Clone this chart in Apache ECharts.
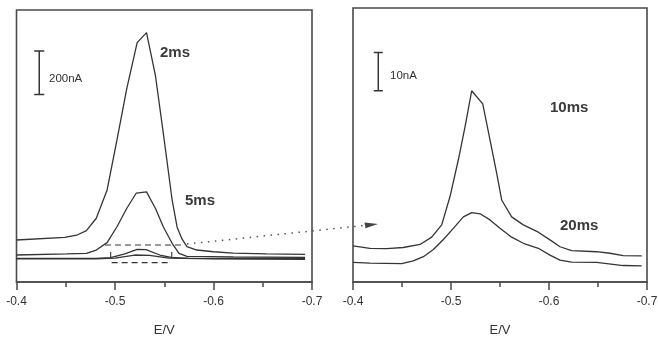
<!DOCTYPE html>
<html><head><meta charset="utf-8">
<script src="https://cdn.jsdelivr.net/npm/echarts@6.0.0/dist/echarts.min.js"></script>
<style>html,body{margin:0;padding:0;background:#fff}#c{width:658px;height:343px}</style>
</head><body><div id="c"></div>
<script>
// ---- data (E in V, current in nA) ----
const xTickLabels = ['-0.4', '-0.5', '-0.6', '-0.7'];
// left panel (200 nA scale)
const E_2ms = [-0.400,-0.449,-0.461,-0.471,-0.481,-0.492,-0.502,-0.512,-0.5225,-0.532,-0.541,-0.549,-0.558,-0.563,-0.568,-0.573,-0.583,-0.600,-0.620,-0.654,-0.693];
const I_2ms = [193,205,215,236,293,423,653,890,1100,1146,950,685,377,253,198,163,147,139,133,129,127];
const E_5ms = [-0.400,-0.451,-0.471,-0.481,-0.492,-0.502,-0.512,-0.5215,-0.532,-0.541,-0.549,-0.558,-0.565,-0.573,-0.620,-0.693];
const I_5ms = [124,129,132,147,181,254,339,408,414,339,254,178,132,118,115,113];
// 10 ms and 20 ms traces as they appear on the 200 nA scale
const E_10ms_small = [-0.400,-0.480,-0.4955,-0.510,-0.5225,-0.5315,-0.5455,-0.557,-0.575,-0.693];
const I_10ms_small = [109,109,112,129,150,149,124,113,109,107];
const E_20ms_small = [-0.400,-0.480,-0.500,-0.520,-0.535,-0.555,-0.600,-0.693];
const I_20ms_small = [106,106,110,124,122,110,106,104];
// right panel (10 nA scale)
const E_10ms = [-0.400,-0.4173,-0.4344,-0.4513,-0.4684,-0.4803,-0.4905,-0.499,-0.5075,-0.5143,-0.5211,-0.5324,-0.5398,-0.5466,-0.5517,-0.5619,-0.5738,-0.5891,-0.601,-0.6112,-0.6231,-0.6486,-0.6622,-0.6758,-0.6946];
const I_10ms = [9.4,8.8,8.7,9.0,9.8,11.7,14.9,22.3,31.9,40.5,49.9,46.5,37.1,28.4,21.4,17.0,14.9,13.0,11.0,9.2,8.2,7.9,7.5,6.9,6.8];
const E_20ms = [-0.400,-0.4173,-0.4497,-0.4615,-0.4718,-0.482,-0.4922,-0.5024,-0.5126,-0.5211,-0.5296,-0.5398,-0.55,-0.5619,-0.5738,-0.5891,-0.601,-0.6112,-0.6231,-0.6486,-0.6758,-0.6946];
const I_20ms = [5.1,4.9,4.8,5.5,6.6,8.5,11.1,14.0,17.0,18.1,17.8,16.2,14.0,11.7,10.1,8.8,7.0,5.7,5.2,5.1,4.3,4.2];
const seriesLabels = ['2ms', '5ms', '10ms', '20ms'];
const scaleLabels = ['200nA', '10nA'];
const scaleSizes = [200, 10];

const zip = (a, b) => a.map((v, i) => [v, b[i]]);
const INK = '#353535';
const FRAME = '#4a4a4a';
const FONT = 'Liberation Sans, Arial, sans-serif';

function lineSeries(gi, data, extra) {
  return Object.assign({
    type: 'line', xAxisIndex: gi, yAxisIndex: gi, data: data,
    symbol: 'none', showSymbol: false, silent: true, animation: false,
    lineStyle: { color: INK, width: 1.3 }
  }, extra || {});
}
function scaleBar(gi, x, y0, size, hw) {
  return lineSeries(gi, [[x - hw, y0], [x + hw, y0], [x, y0], [x, y0 + size], [x - hw, y0 + size], [x + hw, y0 + size]],
    { lineStyle: { color: INK, width: 1.5 } });
}
function xAxisFor(gi) {
  return {
    gridIndex: gi, type: 'value', min: -0.7, max: -0.4, interval: 0.1, inverse: true,
    name: 'E/V', nameLocation: 'middle', nameGap: 42,
    nameTextStyle: { fontSize: 13, color: '#333', fontFamily: FONT },
    axisLine: { show: true, lineStyle: { color: FRAME, width: 1.6 } },
    axisTick: { show: true, length: 8, lineStyle: { color: FRAME, width: 1.5 } },
    minorTick: { show: true, splitNumber: 2, length: 5, lineStyle: { color: FRAME, width: 1.5 } },
    splitLine: { show: false },
    axisLabel: { margin: 14, fontSize: 12, color: '#333', fontFamily: FONT,
      formatter: v => xTickLabels[Math.round((-0.4 - v) / 0.1)] }
  };
}

const chart = echarts.init(document.getElementById('c'), null, { renderer: 'canvas' });
const option = {
  backgroundColor: '#fff',
  animation: false,
  grid: [
    { left: 16.5, right: 346, top: 10, bottom: 61, show: true, borderColor: FRAME, borderWidth: 1.6, containLabel: false, outerBoundsMode: 'none' },
    { left: 353, right: 11, top: 8, bottom: 61, show: true, borderColor: FRAME, borderWidth: 1.6, containLabel: false, outerBoundsMode: 'none' }
  ],
  xAxis: [xAxisFor(0), xAxisFor(1)],
  yAxis: [
    { gridIndex: 0, type: 'value', min: 0, max: 1250, show: false },
    { gridIndex: 1, type: 'value', min: 0, max: 71.5, show: false }
  ],
  series: [
    lineSeries(0, zip(E_2ms, I_2ms)),
    lineSeries(0, zip(E_5ms, I_5ms)),
    lineSeries(0, zip(E_10ms_small, I_10ms_small)),
    lineSeries(0, zip(E_20ms_small, I_20ms_small)),
    lineSeries(1, zip(E_10ms, I_10ms)),
    lineSeries(1, zip(E_20ms, I_20ms)),
    scaleBar(0, -0.4231, 862, scaleSizes[0], 0.0051),
    scaleBar(1, -0.4258, 49.9, scaleSizes[1], 0.0046),
    // dashed box marking the zoomed region
    lineSeries(0, [[-0.4898, 170], [-0.5692, 170]], { lineStyle: { color: INK, width: 1.2, type: [6, 4] } }),
    lineSeries(0, [[-0.4966, 89], [-0.5576, 89]], { lineStyle: { color: INK, width: 1.2, type: [6, 4] } }),
    lineSeries(0, [[-0.4956, 115], [-0.4956, 138]], { lineStyle: { color: INK, width: 1.1 } }),
    lineSeries(0, [[-0.5576, 115], [-0.5576, 138]], { lineStyle: { color: INK, width: 1.1 } })
  ],
  graphic: [
    { type: 'text', left: 49, top: 73, style: { text: scaleLabels[0], fontSize: 11.5, fill: '#333', fontFamily: FONT } },
    { type: 'text', left: 390, top: 70, style: { text: scaleLabels[1], fontSize: 11.5, fill: '#333', fontFamily: FONT } },
    { type: 'text', left: 160, top: 45, style: { text: seriesLabels[0], fontSize: 15, fontWeight: 'bold', fill: '#3a3a3a', fontFamily: FONT } },
    { type: 'text', left: 185, top: 193, style: { text: seriesLabels[1], fontSize: 15, fontWeight: 'bold', fill: '#3a3a3a', fontFamily: FONT } },
    { type: 'text', left: 550, top: 100, style: { text: seriesLabels[2], fontSize: 15, fontWeight: 'bold', fill: '#3a3a3a', fontFamily: FONT } },
    { type: 'text', left: 560, top: 218, style: { text: seriesLabels[3], fontSize: 15, fontWeight: 'bold', fill: '#3a3a3a', fontFamily: FONT } },
    { type: 'polyline', shape: { points: [[187, 244], [365, 225.4]] }, style: { stroke: '#555', lineWidth: 1.5, lineDash: [1.5, 5.5], fill: null } },
    { type: 'polygon', shape: { points: [[378, 224], [364.5, 222.4], [365.5, 228.2]] }, style: { fill: '#444' } }
  ]
};
chart.setOption(option);
</script>
</body></html>
